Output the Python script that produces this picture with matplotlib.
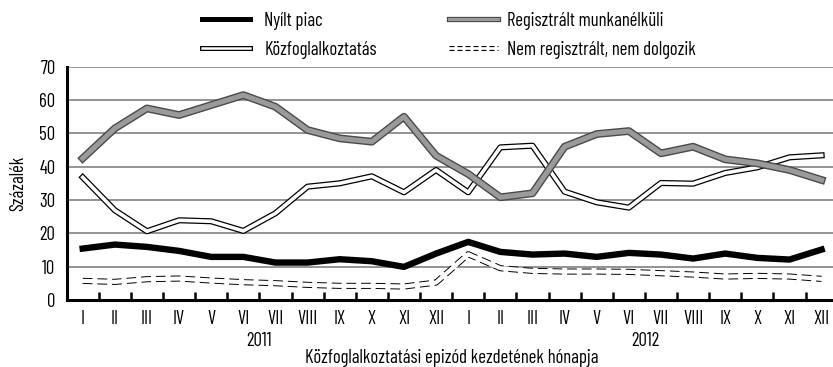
import numpy as np
import matplotlib
matplotlib.use("Agg")
import matplotlib.pyplot as plt
from matplotlib.lines import Line2D
from matplotlib.legend_handler import HandlerTuple

plt.rcParams['font.family'] = ['Barlow Condensed', 'Roboto Condensed', 'DejaVu Sans']

# monthly categories, two years
months = ["I", "II", "III", "IV", "V", "VI", "VII", "VIII", "IX", "X", "XI", "XII"] * 2
years = ["2011", "2012"]

# percentages by month of episode start
nyilt_piac = [15.4, 16.6, 15.9, 14.7, 12.9, 12.9, 11.2, 11.2, 12.2, 11.6, 9.9, 13.9,
              17.4, 14.4, 13.6, 13.9, 12.9, 14.1, 13.6, 12.4, 13.9, 12.6, 12.1, 15.1]
regisztralt = [42.5, 51.5, 57.5, 55.5, 58.5, 61.5, 58.0, 51.0, 48.5, 47.5, 55.0, 43.3,
               37.8, 30.8, 32.0, 46.0, 49.8, 50.7, 44.0, 46.0, 42.2, 41.0, 39.0, 36.0]
kozfoglalkoztatas = [36.8, 26.9, 20.6, 23.9, 23.6, 20.7, 26.0, 34.0, 35.0, 37.1, 32.3, 39.0,
                     32.3, 45.8, 46.3, 32.5, 29.3, 27.7, 35.1, 34.9, 38.1, 39.8, 42.8, 43.4]
nem_regisztralt = [5.7, 5.4, 6.2, 6.4, 5.8, 5.3, 5.0, 4.5, 4.2, 4.2, 4.0, 5.2,
                   13.7, 9.5, 8.7, 8.5, 8.5, 8.4, 8.0, 7.6, 7.0, 7.2, 7.0, 6.3]

x = np.arange(len(months))
fs = 13.5

fig = plt.figure(figsize=(8.33, 3.67), dpi=100)
ax = fig.add_axes([0.08, 0.183, 0.9256, 0.635])

dash = (0, (1.6, 0.8))

# double-line look: wide dark stroke underneath, narrower fill on top
ax.plot(x, nem_regisztralt, color="black", lw=4.4, ls=dash, zorder=3)
ax.plot(x, nem_regisztralt, color="white", lw=3.0, zorder=4)
ax.plot(x, nyilt_piac, color="black", lw=4.6, solid_joinstyle="round", zorder=5)
ax.plot(x, kozfoglalkoztatas, color="black", lw=4.4, zorder=6)
ax.plot(x, kozfoglalkoztatas, color="white", lw=2.6, zorder=7)
ax.plot(x, regisztralt, color="#4a4a4a", lw=5.6, zorder=8)
ax.plot(x, regisztralt, color="#9a9a9a", lw=3.6, zorder=9)

ax.set_xlim(-0.5, len(months) - 0.5)
ax.set_ylim(0, 70)
ax.set_yticks(range(0, 71, 10))
ax.yaxis.grid(True, color="#808080", lw=1.2)
ax.set_axisbelow(True)

for s in ["top", "right"]:
    ax.spines[s].set_visible(False)
ax.spines["left"].set_linewidth(2.2)
ax.spines["bottom"].set_linewidth(2.2)

# month names at the centres, short upward marks at the month boundaries
ax.set_xticks(x)
ax.set_xticklabels(months)
ax.tick_params(axis="x", length=0, labelsize=fs, pad=7)
ax.tick_params(axis="y", length=0, labelsize=fs, pad=8)
ax.vlines(x[:-1] + 0.5, 0, 2.4, color="black", lw=1.8, zorder=10)

for i, yr in enumerate(years):
    ax.text(5.5 + 12 * i, -0.178, yr, transform=ax.get_xaxis_transform(),
            ha="center", va="center", fontsize=fs)

ax.text(0.5, -0.25, "Közfoglalkoztatási epizód kezdetének hónapja", transform=ax.transAxes,
        ha="center", va="center", fontsize=fs)
ax.set_ylabel("Százalék", fontsize=fs, labelpad=9)

# legend handles
h_np = Line2D([], [], color="black", lw=3.6)
h_kf = (Line2D([], [], color="black", lw=3.6), Line2D([], [], color="white", lw=1.8))
h_rm = (Line2D([], [], color="#4a4a4a", lw=3.8), Line2D([], [], color="#9a9a9a", lw=2.2))
h_nr = (Line2D([], [], color="black", lw=3.6, ls=(0, (1.0, 0.6))), Line2D([], [], color="white", lw=2.0))

common = dict(frameon=False, loc="upper left", fontsize=fs, handlelength=2.6,
              labelspacing=0.6, borderpad=0, borderaxespad=0,
              handler_map={tuple: HandlerTuple(ndivide=1, pad=0)})
fig.legend([h_np, h_kf], ["Nyílt piac", "Közfoglalkoztatás"],
           bbox_to_anchor=(0.242, 0.968), handletextpad=0.75, **common)
fig.legend([h_rm, h_nr], ["Regisztrált munkanélküli", "Nem regisztrált, nem dolgozik"],
           bbox_to_anchor=(0.539, 0.968), handletextpad=0.5, **common)

fig.savefig("out.png", dpi=100)
